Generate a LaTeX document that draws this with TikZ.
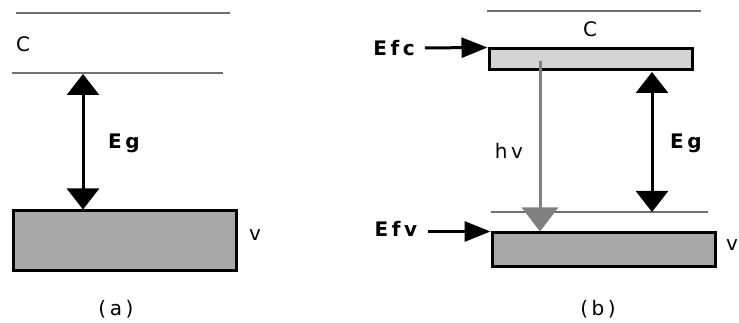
\documentclass[tikz,border=0pt]{standalone}
\usepackage{fontspec}
\setmainfont{DejaVu Sans}
\usepackage{xcolor}
\usetikzlibrary{arrows.meta, positioning}

\definecolor{levelgray}{HTML}{707070}
\definecolor{bandgray}{HTML}{A8A8A8}
\definecolor{lightband}{HTML}{D4D4D4}
\definecolor{photongray}{HTML}{808080}

\begin{document}
\begin{tikzpicture}[x=1pt, y=-1pt,
    level/.style={draw=levelgray, line width=2pt},
    band/.style={rectangle, draw=black, line width=3pt, fill=bandgray, inner sep=0pt},
    gaparrow/.style={draw=black, line width=3pt, {Triangle[length=21pt,width=32pt]}-{Triangle[length=21pt,width=32pt]}},
    fermiarrow/.style={draw=black, line width=3pt, shorten <=10pt, -{Triangle[length=26pt,width=20pt]}},
    photon/.style={draw=photongray, line width=3pt, -{Triangle[length=24pt,width=36pt]}},
    lbl/.style={font=\fontsize{20}{22}\selectfont\addfontfeatures{LetterSpace=18}, inner sep=0pt},
    bold/.style={lbl, font=\fontsize{20}{22}\selectfont\bfseries\addfontfeatures{LetterSpace=18}}]

    \useasboundingbox [fill=white] (0,0) rectangle (739,323);

    % (a) Intrinsic
    \coordinate (ca1) at (16,13);
    \coordinate (ca2) at (230,13);
    \coordinate (cba1) at (12,73);
    \coordinate (cba2) at (223,73);
    \draw [level] (ca1) -- (ca2);
    \draw [level] (cba1) -- (cba2);
    \node [lbl] at (23,44) (ca) {C};
    \node [band, minimum width=223pt, minimum height=59pt] at (124.5,240.5) (va) {};
    \node [lbl] at (255,235) (vlabela) {v};
    \coordinate (ega) at (83,74);
    \draw [gaparrow] (ega) -- (ega |- va.north);
    \node [bold] at (124,143) (eglabela) {Eg};
    \node [lbl] at (116,309) (capa) {(a)};

    % (b) Degenerate
    \coordinate (cb1) at (487,11);
    \coordinate (cb2) at (701,11);
    \coordinate (vbl1) at (491,212);
    \coordinate (vbl2) at (708,212);
    \draw [level] (cb1) -- (cb2);
    \node [lbl] at (590,29) (cb) {C};
    \node [band, fill=lightband, minimum width=203pt, minimum height=21pt] at (590.5,59.5) (cbox) {};
    \node [band, minimum width=223pt, minimum height=33pt] at (603.5,249.5) (vb) {};
    \draw [level] (vbl1) -- (vbl2);
    \node [lbl] at (732,245) (vlabelb) {v};

    \node [bold] at (394,48) (efc) {Efc};
    \node [bold] at (396,229) (efv) {Efv};
    \draw [fermiarrow] (efc.east) -- (cbox.north west);
    \draw [fermiarrow] (efv.east |- vb.north west) -- (vb.north west);

    \coordinate (hvtop) at (540,61);
    \draw [photon] (hvtop) -- (hvtop |- vb.north);
    \node [lbl] at (509,151) (hv) {hv};

    \coordinate (egb) at (652,72);
    \draw [gaparrow] (egb) -- (egb |- vbl1);
    \node [bold] at (686,143) (eglabelb) {Eg};
    \node [lbl] at (598,309) (capb) {(b)};

\end{tikzpicture}
\end{document}
